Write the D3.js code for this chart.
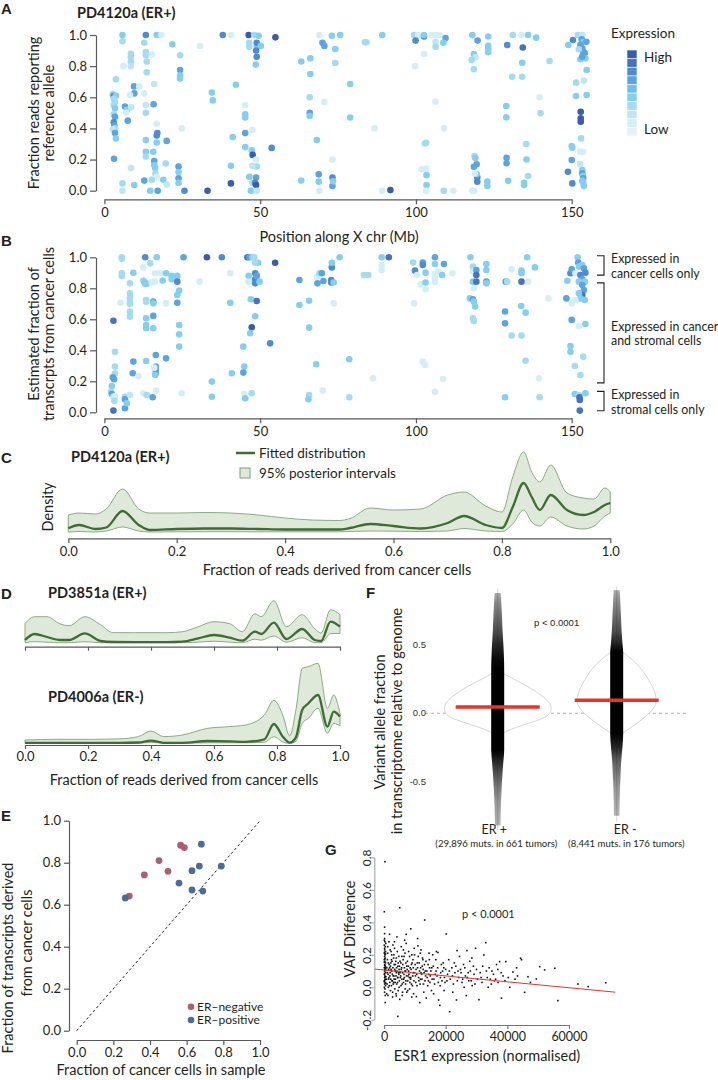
<!DOCTYPE html>
<html><head><meta charset="utf-8">
<script src="https://cdn.jsdelivr.net/npm/d3@7"></script>
<style>body{margin:0;background:#fff}</style>
</head><body><svg id="c" width="718" height="1080"></svg>
<script>
// ---------------- DATA ----------------
// Panel A: [position Mb, fraction ref reads, expression level 0-9]
const aPoints = [
[5.8,1,4],[13.3,1,7],[16.8,1,4],[18.3,1,1],[38,1,7],[40.6,1,1],[46.3,1,9],[48.1,1,3],[49.5,0.995,4],[54.9,0.985,9],[69,1,1],[73,0.995,4],[75.7,1,4],
[5.8,0.96,3],[12.8,0.95,3],[21.8,0.94,4],[30.7,0.93,1],[46.5,0.925,3],[46.5,0.95,3],[48.9,0.93,4],[48.9,0.95,7],[50.2,0.93,4],[70,0.95,6],[70.6,0.93,6],
[8.5,0.88,3],[8.5,0.86,3],[8.5,0.83,3],[8.5,0.8,2],[6.1,0.8,1],[13.3,0.89,3],[13.3,0.87,3],[13.6,0.83,3],[13.6,0.76,3],[15.2,0.875,1],[24.3,0.87,3],[24.3,0.775,6],[24.3,0.74,4],[24.3,0.72,4],[48.7,0.9,7],[48.9,0.86,7],[48.6,0.81,4],[63.2,0.83,4],[66.1,0.85,4],[66.1,0.75,4],[74.1,0.91,4],[74.1,0.82,3],[78.9,0.685,4],
[3.7,0.715,3],[9.5,0.67,6],[11.2,0.67,1],[16,0.685,2],[9.6,0.625,6],[12.8,0.625,1],[8.2,0.615,1],
[2.7,0.62,3],[3.0,0.61,7],[3.7,0.61,4],[3.0,0.59,3],[3.4,0.57,3],[3.0,0.55,3],[3.4,0.53,4],[3.0,0.49,3],[3.4,0.475,6],[3.0,0.44,7],[3.2,0.42,6],[3.4,0.4,3],[2.7,0.395,2],[3.4,0.37,6],[3.7,0.335,4],
[6.6,0.54,6],[7.2,0.52,4],[7.0,0.5,1],[7.5,0.45,6],[8.6,0.535,2],
[13.3,0.55,2],[13.3,0.5,3],[15.8,0.555,6],[16.8,0.43,1],[17.0,0.37,7],[16.8,0.355,7],[16.8,0.31,4],[20,0.32,6],[24.8,0.4,1],[13.3,0.325,4],[3.1,0.205,6],
[13.3,0.25,4],[13.3,0.22,3],[15.7,0.25,4],[16,0.19,6],[16,0.165,4],[16.3,0.145,4],[19.7,0.175,3],[23.8,0.155,6],[23.8,0.12,4],[23.8,0.08,6],[23.8,0.05,4],
[8.5,0.145,2],[16.4,0.11,3],[16.8,0.09,1],
[5.8,0.047,3],[9.6,0.037,4],[12.8,0.065,6],[15.2,0.07,3],[18.9,0.07,4],[20,0.04,2],
[5.8,0,2],[14.7,0,4],[17.1,0,6],[25.7,0,7],[33.1,0,9],[40.6,0.047,9],
[40.6,0.16,4],[41.2,0.345,4],[42.2,0.68,4],[34.5,0.63,4],[34.8,0.58,4],[45.2,0.55,1],[45.2,0.49,4],[45.2,0.47,4],[45.2,0.37,6],[45.2,0.28,4],[47.5,0.39,1],[47.3,0.26,4],[47.6,0.23,9],[48.7,0.2,1],[48.9,0.155,3],[47.5,0.16,2],[46.5,0.09,4],[48.7,0.085,6],[47.5,0.05,3],[48.4,0.05,7],[48.7,0.036,9],[47.6,0,1],[47,0,4],[48.9,0,2],
[53.7,0.275,7],
[65.9,0.6,3],[65.9,0.5,6],[65.9,0.48,4],[68.2,0.325,4],[70.6,0.57,1],[68.8,0.105,6],[68.8,0.058,4],[63.2,0.065,4],[69,0,1],[73.2,0.2,1],[73.2,0.085,7],[73.2,0.03,6],[73.4,0.06,4],[78.9,0.47,4],
[83.6,0.953,3],[84.1,0.953,3],[89.2,1,4],[99.4,1,3],[100.7,1,1],[99.9,0.964,7],[102.6,0.99,7],[102.6,1,4],[105,1,1],[106.5,1,1],[107.6,1,1],[106.3,0.957,2],[106.3,0.925,3],[109.5,0.98,6],[108.8,0.95,4],[102.6,0.878,1],[99.7,0.8,1],
[118.1,1,4],[119.8,0.964,6],[123.2,0.99,4],[123.2,0.93,4],[123.2,0.91,4],[123.2,0.89,4],[118.6,0.878,4],[119.1,0.857,2],[117.9,0.84,3],[118.6,0.78,3],[129.3,0.936,7],[131.1,1,3],[133.9,1,1],[136,1,4],[134.3,0.92,8],[134.1,0.822,4],[138.6,0.983,4],[142.9,0.833,3],[130.9,0.732,3],[134.1,0.732,3],[139.7,0.6,1],[140,0.497,3],[129,0.544,4],[129,0.471,4],[106.3,0.572,1],[86.7,0.4,1],[109,0.4,1],
[102.9,0.303,3],[103.3,0.308,3],[135.4,0.3,3],[118.8,0.223,3],[119.1,0.21,4],[119.5,0.17,6],[118.6,0.154,6],[129.1,0.212,6],[129.1,0.176,6],[135.5,0.2,4],[101.8,0.137,1],[103.3,0.143,1],[103.4,0.1,4],[103.4,0.036,4],[89.2,0,1],[91.8,0.004,9],[103.3,0,1],[108.9,0,3],[112,0,1],[118.1,0,1],[118.7,0,1],[119.7,0.086,7],[119.7,0.058,7],[119.5,0.107,4],[118.9,0.11,1],[122.9,0.058,4],[122.9,0.03,4],[129.6,0.064,4],[134.7,0.05,4],[134.7,0.036,4],[136,0.094,3],
[150.4,0.968,7],[152,1,3],[153.4,1,2],[153.2,0.972,6],[153.9,0.957,4],[154.7,0.957,6],[148.9,0.936,4],[152.8,0.936,6],[153.4,0.914,6],[153.7,0.893,6],[154.2,0.882,6],[152.3,0.908,3],[152.8,0.844,4],[154.4,0.85,4],[153.4,0.861,6],[154.8,0.775,4],[151.4,0.694,3],[153.9,0.707,2],[151.4,0.608,4],[154.8,0.615,4],[152.9,0.507,9],[152.9,0.465,9],[152.9,0.443,9],[153,0.336,3],[150,0.287,4],[150.2,0.276,4],[152.7,0.25,1],[153.7,0.25,1],[150,0.197,6],[152.7,0.171,2],[148.8,0.122,7],[153.4,0.133,4],[153.4,0.111,6],[153.6,0.094,4],[153.7,0.079,6],[153.4,0.064,4],[150.2,0.047,7],[153.7,0.051,4],[153.9,0.03,4]
];
// Panel B: [position Mb, estimated fraction from cancer cells, expression level 0-9]
const bPoints = [
[5.6,1,3],[5.6,0.99,3],[13.1,1,7],[16.8,1,4],[25.4,1,6],[32.9,1,9],[37.7,1,7],[45.9,1,8],[46.6,1,6],[47.5,1,4],[48.1,1,3],[49.3,0.965,4],[48.4,0.965,3],[54.8,0.965,9],[75.5,1,4],
[14.7,0.961,3],[12.5,0.935,1],
[5.6,0.897,3],[5.6,0.88,3],[9.3,0.9,4],[8.2,0.832,3],[16.3,0.897,1],[17.9,0.897,1],[19.8,0.897,4],[21.6,0.88,4],[21.6,0.858,4],[23.4,0.88,4],[18.7,0.85,4],[12.5,0.85,3],[12.8,0.84,4],[13.1,0.83,4],[13.6,0.83,4],[15.2,0.837,1],[16.1,0.843,1],[23.4,0.843,7],[24,0.785,4],[30.5,0.843,1],[40.4,0.897,1],[40.4,0.707,4],[46.3,0.88,4],[46.3,0.843,1],[48.4,0.897,7],[48.4,0.858,7],[48.4,0.832,7],[48.9,0.88,6],[49.8,0.843,4],[47,0.729,4],[48.9,0.718,8],[48.4,0.62,4],[47.3,0.548,9],[46.8,0.51,4],
[8.2,0.768,3],[8.2,0.742,3],[8.2,0.714,3],[8.2,0.7,3],[5.2,0.707,1],[8.2,0.65,3],[8.2,0.617,3],[13.4,0.725,3],[13.4,0.714,3],[15.7,0.714,6],[15.7,0.703,4],[19.8,0.703,1],[23.4,0.757,4],[23.4,0.707,6],[13.4,0.606,4],[13.4,0.563,4],[13.4,0.542,4],[15.7,0.622,6],[15.7,0.542,4],[24,0.563,4],[24,0.503,4],[24,0.424,4],[2.9,0.591,8],[3.4,0.39,3],[9.3,0.327,6],[9.1,0.252,6],[10.9,0.234,1],[3.4,0.295,3],[3.4,0.252,3],[2.7,0.226,6],[3.1,0.213,6],[2.4,0.17,4],[2.1,0.133,3],[2.4,0.118,6],[2.9,0.1,2],[3.4,0.104,1],[3.2,0.075,3],[2.9,0.011,8],[6.6,0.1,3],[6.6,0.084,6],[6.6,0.026,6],[7.2,0.058,4],[8.2,0.112,2],[13.4,0.331,4],[12.5,0.123,1],[13.6,0.112,3],[15.5,0.097,6],[16.5,0.37,6],[16.5,0.295,6],[16.5,0.273,6],[16.5,0.252,6],[16.3,0.241,4],[16,0.288,1],[19.8,0.348,6],[16.6,0.14,1],[24.8,0.123,1],[34.5,0.198,4],[34.5,0.1,4],[40.9,0.252,4],[44.6,0.424,4],[44.9,0.295,4],[44.6,0.256,6],[44.9,0.118,1],[45.2,0.09,4],[47.3,0.123,3],[53.2,0.445,7],[62.6,0.854,6],[62.6,0.692,4],[65.7,0.72,4],[65.7,0.546,4],[65.7,0.112,3],[65.5,0.084,4],[68,0.31,4],[70.1,0.14,1],[68.2,0.875,1],[69,0.897,3],[68.4,0.832,6],[69.8,0.897,6],[70.3,0.847,6],[72.8,0.854,7],[72.8,0.837,7],[73,0.935,7],[73,0.965,4],[73.6,0.837,4],[73.6,0.703,1],[78.6,0.342,4],[78.6,0.097,3],
[83.3,0.886,3],[84.7,0.886,3],[89,1,4],[91.3,1,8],[89,0.95,1],[89,0.918,1],[86.2,0.219,1],[99.1,0.966,3],[102.2,0.966,6],[102.2,0.95,7],[99.7,0.914,7],[100.4,0.886,1],[103.1,0.901,4],[101.5,0.826,1],[103.1,0.837,4],[103.1,0.794,1],[106.1,1,6],[106.1,0.957,4],[109,0.957,6],[106.1,0.892,1],[106.1,0.865,1],[106.1,0.843,1],[107.2,0.908,1],[108.4,0.886,4],[111.7,0.897,1],[99.4,0.703,1],[102.2,0.327,1],[102.9,0.305,1],[108.7,0.215,1],[106.1,0.133,1],
[117.5,1,4],[118.3,0.94,3],[118.3,0.908,1],[119.4,0.918,6],[119.4,0.886,8],[118.3,0.843,4],[119.4,0.843,8],[122.6,0.957,4],[122.6,0.918,4],[122.6,0.843,6],[122.6,0.832,4],[118.6,0.8,1],[117.3,0.735,4],[118.3,0.729,6],[118.6,0.714,4],[119,0.682,4],[118.3,0.606,3],[118.6,0.589,3],[128.8,0.843,6],[129.3,0.843,3],[128.6,0.65,6],[128.6,0.574,6],[130.7,0.923,1],[133.9,0.914,4],[133.9,0.897,4],[133.9,0.843,8],[135.7,1,4],[136,0.843,1],[138.2,0.935,4],[133.8,0.686,4],[135.2,0.643,4],[130.7,0.495,3],[133.9,0.495,3],[135.2,0.333,3],[139.5,0.219,1],[128.6,0.097,4],[139.7,0.097,3],[142.5,0.735,1],
[148.6,0.849,4],[148.3,0.735,6],[149.6,0.897,7],[150,0.923,6],[151.9,1,4],[152.1,0.966,6],[152.3,0.94,4],[153.4,0.95,4],[153.9,0.929,6],[151.2,0.897,1],[152.8,0.886,7],[153.4,0.858,6],[154.4,0.901,7],[152.3,0.843,4],[154.2,0.843,4],[153.4,0.821,6],[153.9,0.789,6],[153.4,0.757,8],[152.8,0.735,4],[154.2,0.725,4],[152.3,0.768,4],[150,0.703,1],[151.2,0.725,1],[150,0.596,6],[154.4,0.57,4],[152.3,0.557,1],[149.6,0.428,4],[149.6,0.391,4],[153.7,0.359,3],[151,0.299,3],[152.8,0.241,3],[151,0.118,4],[152.3,0.112,3],[154.4,0.123,4],[152.5,0.097,8],[152.6,0.08,8],[152.6,0.011,8]
];
const abXTicks = [0, 50, 100, 150];
const abYTicks = [0, 0.2, 0.4, 0.6, 0.8, 1.0];
const bBrackets = [[1.01, 0.885], [0.835, 0.19], [0.135, 0.01]];
const bBracketText = [["Expressed in", "cancer cells only"], ["Expressed in cancer", "and stromal cells"], ["Expressed in", "stromal cells only"]];

// Panel C: fitted density and 95% posterior interval
const cX   = [0,.02,.05,.07,.10,.13,.15,.20,.25,.30,.35,.40,.45,.50,.52,.557,.60,.65,.70,.73,.77,.80,.82,.84,.855,.87,.89,.92,.95,.97,.99,1.0];
const cFit = [.37,.7,.3,.45,2.1,.7,.2,.3,.35,.35,.3,.25,.25,.25,.4,.8,.6,.35,.9,1.6,.7,.4,2.5,4.9,3.5,2.2,3.7,2.2,1.7,2.0,2.7,2.9];
const cLo  = [0,.05,0,.1,.5,.1,0,.02,.03,.03,.02,.02,.02,.02,.05,.1,.08,.05,.1,.35,.1,.05,.8,2.2,1.0,.6,1.5,.6,.3,.6,1.6,1.9];
const cHi  = [1.7,1.9,1.8,2.3,4.3,2.3,1.9,1.9,1.95,1.9,1.7,1.4,1.2,1.15,1.35,2.4,2.2,2.3,3.7,4.0,2.6,2.0,5.5,8.0,6.0,5.0,6.7,3.9,3.4,3.3,4.4,4.0];
const fracTicks = [0, 0.2, 0.4, 0.6, 0.8, 1.0];

// Panel D
const d1X   = [0,.03,.07,.11,.14,.19,.24,.28,.35,.45,.5,.55,.6,.65,.69,.73,.75,.79,.83,.88,.92,.94,.97,1.0];
const d1Fit = [.27,.87,.57,.27,.27,.93,.17,.07,.05,.05,.1,.43,.77,.5,.2,1.1,.87,2.0,.37,1.37,.27,.17,2.1,1.6];
const d1Lo  = [0,.1,.05,0,0,.1,0,0,0,0,0,.05,.15,.05,0,.35,.25,.67,.05,.5,0,0,.9,.93];
const d1Hi  = [1.9,2.6,2.6,1.9,1.7,2.6,1.8,1.0,1.0,1.0,1.1,1.6,2.1,1.9,1.1,2.9,2.6,4.2,1.6,2.8,1.4,.97,3.3,2.8];
const d2X   = [0,.1,.2,.3,.36,.4,.44,.5,.58,.65,.7,.76,.79,.82,.84,.86,.88,.9,.93,.96,.98,1.0];
const d2Fit = [.05,.05,.05,.05,.08,.27,.05,.05,.23,.2,.15,.4,1.93,.6,.07,.6,3.33,4.0,4.83,1.67,3.17,2.67];
const d2Lo  = [0,0,0,0,0,.1,0,0,.05,.05,.05,.1,.67,.1,0,.2,2.0,2.5,3.5,1.0,2.0,1.73];
const d2Hi  = [.33,.4,.4,.45,.67,1.23,.67,.83,1.5,1.67,1.83,2.83,4.3,2.67,.73,3.33,7.5,7.67,8.0,3.5,4.83,3.0];

// Panel E: [fraction cancer cells in sample, fraction transcripts from cancer cells]
const eNeg = [[0.287,0.641],[0.369,0.742],[0.449,0.81],[0.498,0.759],[0.567,0.883],[0.587,0.872]];
const ePos = [[0.265,0.632],[0.558,0.703],[0.629,0.762],[0.629,0.67],[0.669,0.784],[0.68,0.888],[0.688,0.665],[0.789,0.784]];
const eTicks = [0, 0.2, 0.4, 0.6, 0.8, 1.0];
const eLegend = ["ER–negative", "ER–positive"];

// Panel F
const fCats = ["ER +", "ER -"];
const fSub = ["(29,896 muts. in 661 tumors)", "(8,441 muts. in 176 tumors)"];
const fMedian = [0.046, 0.095];
const fTicks = [0.5, 0.0, -0.5];
const fViolinPlusY = [0.3,0.268,0.195,0.146,0.085,0.037,-0.024,-0.073,-0.122,-0.15];
const fViolinPlusD = [0.07,0.2,0.57,0.76,0.96,1.0,0.96,0.57,0.2,0.07];
const fViolinMinusY = [0.46,0.37,0.27,0.17,0.1,0.05,-0.02,-0.1,-0.15];
const fViolinMinusD = [0.07,0.37,0.56,0.7,0.74,0.72,0.56,0.28,0.09];
const fColPlusY = [0.88,0.8,0.7,0.6,0.5,0.4,0.32,-0.27,-0.35,-0.45,-0.55,-0.65,-0.82];
const fColPlusD = [0.12,0.3,0.45,0.6,0.8,0.95,1,1,0.8,0.55,0.35,0.2,0.06];
const fColMinusY = [0.9,0.8,0.7,0.6,0.5,0.45,-0.15,-0.25,-0.35,-0.45,-0.55,-0.75];
const fColMinusD = [0.12,0.3,0.45,0.6,0.85,1,1,0.8,0.5,0.35,0.2,0.06];

// Panel G: [ESR1 expression (thousands), VAF difference]
const gPoints = [
[0.2,0.30],[0.3,0.28],[0.1,0.26],[0.4,0.25],[0.2,0.23],[0.5,0.22],[0.1,0.21],[0.3,0.2],[0.2,0.19],[0.4,0.18],[0.1,0.17],[0.3,0.16],[0.5,0.15],[0.2,0.14],[0.4,0.13],[0.1,0.12],[0.3,0.11],[0.2,0.1],[0.5,0.09],[0.1,0.08],[0.3,0.07],[0.2,0.06],[0.4,0.05],[0.1,0.04],[0.3,0.03],[0.2,0.02],[0.5,0.01],[0.1,0.0],[0.3,-0.01],[0.2,-0.03],[0.4,-0.05],[0.2,0.24],[0.6,0.27],[0.1,0.29],[0.3,0.135],[0.6,0.105],[0.6,0.065],[0.6,0.025],[0.2,0.37],[0.1,0.465],[0.3,0.773],[0.2,0.33],[0.4,-0.094],
[0.3,0.045],[0.2,0.085],[0.4,0.115],[0.1,0.155],[0.3,0.175],[0.5,0.205],[0.2,0.215],[0.4,0.065],[0.1,0.035],[0.5,0.125],
[1.2,0.21],[1.5,0.05],[1.8,0.12],[2.1,-0.02],[2.4,0.17],[2.7,0.08],[3.0,0.02],[3.3,0.14],[3.6,0.1],[3.9,-0.04],[4.2,0.31],[4.5,0.06],[4.8,0.19],[1.1,0.09],[1.4,0.15],[1.7,0.01],[2.0,0.23],[2.3,0.11],[2.6,0.04],[2.9,0.26],[3.2,0.07],[3.5,-0.01],[3.8,0.16],[4.1,0.12],[4.4,0.03],[4.7,0.09],[5.0,0.13],[1.3,-0.05],[1.9,0.07],[2.5,0.2],[3.1,0.18],[3.7,0.05],[4.3,0.22],[4.9,0.0],[1.6,0.28],[2.2,0.15],[2.8,-0.03],[3.4,0.24],[4.0,0.09],[4.6,0.15],[5.1,0.49],[4.0,-0.053],[4.5,-0.179],[5.1,-0.074],[1.8,0.326],
[0.8,0.05],[0.9,0.12],[1.0,0.02],[1.1,0.17],[1.3,0.08],[1.4,0.0],[1.5,0.11],[1.6,0.06],[1.7,0.14],[1.9,0.03],[2.0,0.09],[2.1,0.13],[2.2,0.05],[2.4,0.01],[2.5,0.1],[2.6,0.16],[2.7,0.04],[2.9,0.12],[3.0,0.07],[3.1,0.03],[3.2,0.2],[3.3,0.05],[3.5,0.11],[3.6,0.03],[3.7,0.14],[3.9,0.07],[4.0,0.18],[4.1,0.02],[4.2,0.1],[4.4,0.06],[4.5,0.13],[4.6,-0.02],[4.8,0.08],[4.9,0.11],[5.0,0.04],
[5.2,0.16],[5.4,0.07],[5.5,0.01],[5.7,0.12],[5.8,0.05],[6.0,0.09],[6.1,0.14],[6.3,0.03],[6.5,0.19],[6.6,0.06],[6.8,0.1],[7.0,0.02],[7.1,0.15],[7.3,0.07],[7.5,0.11],[7.7,0.04],[7.9,0.13],[8.1,0.08],[8.3,-0.01],[8.5,0.12],[8.7,0.06],[8.9,0.02],[9.1,0.15],[9.3,0.07],[9.5,0.12],[9.7,0.04],[9.9,0.09],
[1.2,0.25],[2.3,0.22],[3.4,0.28],[5.6,0.25],[6.7,0.29],[8.0,0.22],[9.9,0.2],[11.8,0.21],[0.9,-0.04],[2.8,-0.06],[5.9,-0.05],[7.4,-0.03],[9.0,-0.06],[12.9,-0.03],[16.1,-0.04],[19.5,-0.02],
[5.3,0.06],[5.6,0.11],[5.9,0.02],[6.2,0.17],[6.5,0.08],[6.8,0.21],[7.1,0.04],[7.4,0.13],[7.7,-0.02],[8.0,0.1],[8.3,0.19],[8.6,0.05],[8.9,0.14],[9.2,0.01],[9.5,0.09],[9.8,0.24],[5.5,0.15],[6.0,-0.03],[6.6,0.12],[7.2,0.27],[7.8,0.07],[8.4,0.03],[9.0,0.2],[9.6,-0.04],[5.8,0.19],[6.4,0.05],[7.0,0.1],[7.6,0.16],[8.2,0.06],[8.8,0.11],[9.4,0.17],[7.2,0.326],[6.3,0.23],[8.7,0.36],[5.2,0.09],[6.9,-0.01],
[10.1,0.14],[10.3,0.03],[10.6,0.08],[10.9,0.12],[11.2,0.06],[11.4,0.15],[11.7,0.02],[12.0,0.09],[12.3,0.05],[12.7,0.11],[13.1,0.14],[13.5,0.07],[13.9,0.1],[14.4,0.04],[14.7,0.17],
[10.2,0.07],[10.5,-0.057],[10.8,0.15],[11.0,0.255],[11.3,0.04],[11.6,-0.094],[11.9,0.12],[12.2,0.08],[12.5,0.18],[12.8,0.02],[13.2,0.414],[13.4,0.1],[13.7,-0.066],[14.0,0.06],[14.3,0.14],[14.6,0.21],[14.9,0.03],[10.4,0.11],[11.1,0.19],[11.8,0.05],[12.4,0.13],[13.0,0.09],[13.6,0.16],[14.2,0.01],[14.8,0.12],[10.7,0.01],[12.0,0.23],[13.3,0.04],[14.5,0.08],[10.9,0.3],[12.6,0.17],[11.5,0.1],
[15.0,0.07],[15.5,0.12],[16.2,0.05],[16.9,0.1],[17.6,0.03],[18.3,0.06],[19.4,0.12],[20.4,0.04],[21.2,0.1],[22.2,0.07],[23.3,0.13],[24.0,0.1],[25.5,0.05],[26.2,0.12],[27.3,0.09],[28.3,0.04],[29.5,0.02],[31.5,0.06],[33.2,0.1],[35.8,0.04],
[15.2,0.1],[15.6,0.05],[16.0,0.13],[16.4,0.02],[16.8,0.17],[17.2,0.07],[17.5,0.214],[17.7,-0.078],[18.1,-0.111],[18.4,0.09],[18.8,0.04],[19.2,0.15],[19.6,0.06],[20.0,0.11],[15.8,0.2],[16.6,0.08],[17.4,0.12],[18.2,0.01],[19.0,0.1],[19.8,0.03],[20.2,0.328],[15.4,-0.02],[17.0,0.22],[18.6,0.14],
[20.6,0.08],[21.3,-0.15],[21.5,0.05],[22.0,0.12],[22.5,0.02],[23.0,0.09],[23.5,-0.078],[23.7,0.226],[24.2,0.06],[24.8,0.11],[25.3,0.03],[25.8,0.14],[26.4,0.07],[26.7,-0.051],[26.9,0.226],[27.5,0.04],[28.0,0.1],[28.6,0.01],[29.2,0.08],[29.7,0.24],[30.3,0.05],[30.8,-0.076],[21.0,0.17],[22.8,0.15],[24.5,0.19],[26.0,0.0],[27.8,0.16],[29.0,0.13],[22.3,-0.03],[25.0,0.09],[27.0,0.06],[28.5,0.18],[30.0,0.11],[23.8,0.04],
[31.2,0.09],[31.8,0.03],[32.4,0.199],[33.0,0.275],[33.5,0.06],[34.1,0.12],[34.8,0.02],[35.5,0.08],[36.2,0.05],[36.9,0.11],[37.5,0.158],[38.1,-0.067],[38.6,0.07],[39.2,0.04],[39.5,0.158],[32.0,0.13],[33.8,0.0],[35.0,0.1],[36.5,0.14],[38.0,0.09],[34.5,0.05],[37.0,0.03],
[40.8,0.0],[41.8,0.094],[42.5,0.05],[43.3,0.07],[44.3,0.179],[44.6,0.17],[45.6,-0.031],[46.7,0.065],[47.5,0.03],[49.4,0.051],[40.3,0.06],[43.0,0.12],
[50.5,0.127],[52.1,0.107],[55.4,0.117],[56.4,-0.082],[62.9,0.02],[66.2,0.004],[71.9,0.028]
];
const gFit = [[-3, 0.112], [75, -0.03]];
const gXTicks = [0, 20000, 40000, 60000];
const gYTicks = [-0.2, 0.0, 0.2, 0.4, 0.6, 0.8];

// ---------------- DRAWING ----------------
const FONT = "Lato, 'Open Sans', sans-serif";
const ARIAL = "'Liberation Sans', Arial, sans-serif";
const palette = ["#e4f4f7","#d3eef5","#bfe6f3","#a3dbf1","#84cef0","#6cc1ec","#5aa4df","#4e8ccf","#4573bd","#3c5ba9"];
const svg = d3.select("#c");
const defs = svg.append("defs");
const fmt1 = d => d3.format(".1f")(d).replace("−", "-");

function txt(x, y, s, size, o = {}) {
  return svg.append("text").attr("x", x).attr("y", y).text(s)
    .attr("font-size", size).attr("font-family", o.family || FONT)
    .attr("font-weight", o.weight || "normal").attr("text-anchor", o.anchor || "start")
    .attr("fill", o.fill || "#231f20");
}
function rtxt(x, y, s, size, o = {}) {
  return svg.append("text").attr("transform", `translate(${x},${y}) rotate(-90)`).text(s)
    .attr("font-size", size).attr("font-family", o.family || FONT)
    .attr("text-anchor", "middle").attr("fill", o.fill || "#231f20");
}
function styleAxis(g, size, color) {
  g.selectAll("path,line").attr("stroke", color || "#58595b").attr("stroke-width", 1.2);
  g.selectAll("text").attr("font-size", size).attr("font-family", FONT).attr("fill", "#231f20");
}
function letter(x, y, s) { txt(x, y, s, 15, {weight: "bold", family: ARIAL}); }

// ----- Panel A -----
const xA = d3.scaleLinear().domain([0, 150]).range([104.4, 571.7]);
const yA = d3.scaleLinear().domain([0, 1]).range([190.7, 35]);
letter(1, 14, "A");
txt(77, 18, "PD4120a (ER+)", 14.5, {weight: "bold"});
svg.append("g").selectAll("circle").data(aPoints).join("circle")
  .attr("cx", d => xA(d[0])).attr("cy", d => yA(d[1])).attr("r", 3.3)
  .attr("fill", d => palette[d[2]]);
let g = svg.append("g").attr("transform", "translate(96,0)")
  .call(d3.axisLeft(yA).tickValues(abYTicks).tickSize(6).tickSizeOuter(0).tickFormat(fmt1));
styleAxis(g, 13);
g = svg.append("g").attr("transform", "translate(0,199.3)")
  .call(d3.axisBottom(xA).tickValues(abXTicks).tickSize(5).tickSizeOuter(0));
styleAxis(g, 13);
rtxt(39, 113, "Fraction reads reporting", 14.5);
rtxt(54, 113, "reference allele", 14.5);
txt(339, 242, "Position along X chr (Mb)", 14.5, {anchor: "middle"});
// legend
txt(611, 38, "Expression", 13.5);
const legY = d3.scaleBand().domain(d3.range(9, -1, -1)).range([50, 136]);
svg.append("g").selectAll("rect").data(d3.range(10)).join("rect")
  .attr("x", 627).attr("width", 10).attr("y", d => legY(d)).attr("height", legY.bandwidth())
  .attr("fill", d => palette[d]).attr("stroke", "#fff").attr("stroke-width", 0.6);
txt(644, 62, "High", 13.5);
txt(644, 134, "Low", 13.5);

// ----- Panel B -----
const yB = d3.scaleLinear().domain([0, 1]).range([412.3, 257.3]);
letter(1, 246, "B");
svg.append("g").selectAll("circle").data(bPoints).join("circle")
  .attr("cx", d => xA(d[0])).attr("cy", d => yB(d[1])).attr("r", 3.3)
  .attr("fill", d => palette[d[2]]);
g = svg.append("g").attr("transform", "translate(96,0)")
  .call(d3.axisLeft(yB).tickValues(abYTicks).tickSize(6).tickSizeOuter(0).tickFormat(fmt1));
styleAxis(g, 13);
g = svg.append("g").attr("transform", "translate(0,418.3)")
  .call(d3.axisBottom(xA).tickValues(abXTicks).tickSize(5).tickSizeOuter(0));
styleAxis(g, 13);
rtxt(39, 334, "Estimated fraction of", 14.5);
rtxt(54, 334, "transcrpts from cancer cells", 14.5);
bBrackets.forEach((r, i) => {
  svg.append("path").attr("d", `M597,${yB(r[0])}H604V${yB(r[1])}H597`)
    .attr("fill", "none").attr("stroke", "#231f20").attr("stroke-width", 1.1);
  const mid = (yB(r[0]) + yB(r[1])) / 2;
  txt(611, mid - 2, bBracketText[i][0], 12.4);
  txt(611, mid + 12.5, bBracketText[i][1], 12.4);
});

// ----- density helper -----
function densityPanel(xs, fit, lo, hi, xScale, yScale) {
  const pts = xs.map((x, i) => ({x, f: fit[i], l: lo[i], h: hi[i]}));
  svg.append("path").datum(pts)
    .attr("d", d3.area().x(d => xScale(d.x)).y0(d => yScale(d.l)).y1(d => yScale(d.h)).curve(d3.curveMonotoneX))
    .attr("fill", "#dfe9da").attr("stroke", "#6f9a66").attr("stroke-width", 0.8);
  svg.append("path").datum(pts)
    .attr("d", d3.line().x(d => xScale(d.x)).y(d => yScale(d.f)).curve(d3.curveMonotoneX))
    .attr("fill", "none").attr("stroke", "#3e6c35").attr("stroke-width", 2.3);
}

// ----- Panel C -----
const xC = d3.scaleLinear().domain([0, 1]).range([68.3, 610.3]);
const yC = d3.scaleLinear().domain([0, 8]).range([532, 452]);
letter(1, 463, "C");
txt(71, 462, "PD4120a (ER+)", 14.5, {weight: "bold"});
densityPanel(cX, cFit, cLo, cHi, xC, yC);
g = svg.append("g").attr("transform", "translate(0,538.3)")
  .call(d3.axisBottom(xC).tickValues(fracTicks).tickSize(5).tickSizeOuter(0).tickFormat(fmt1));
styleAxis(g, 13);
rtxt(53, 507, "Density", 14.5);
txt(337, 575, "Fraction of reads derived from cancer cells", 14.5, {anchor: "middle"});
svg.append("line").attr("x1", 236).attr("x2", 255).attr("y1", 453).attr("y2", 453)
  .attr("stroke", "#3e6c35").attr("stroke-width", 2.5);
txt(259, 458, "Fitted distribution", 13.5);
svg.append("rect").attr("x", 240).attr("y", 468).attr("width", 10).attr("height", 10)
  .attr("fill", "#dfe9da").attr("stroke", "#6f9a66").attr("stroke-width", 0.9);
txt(259, 478, "95% posterior intervals", 13.5);

// ----- Panel D -----
const xD = d3.scaleLinear().domain([0, 1]).range([25, 340]);
const yD1 = d3.scaleLinear().domain([0, 4.2]).range([642.7, 600.7]);
const yD2 = d3.scaleLinear().domain([0, 8]).range([743.3, 663.3]);
letter(1, 599, "D");
txt(48, 598, "PD3851a (ER+)", 14.5, {weight: "bold"});
densityPanel(d1X, d1Fit, d1Lo, d1Hi, xD, yD1);
g = svg.append("g").attr("transform", "translate(0,646.7)")
  .call(d3.axisBottom(xD).tickValues(fracTicks).tickSize(4).tickSizeOuter(0).tickFormat(""));
styleAxis(g, 13);
txt(48, 702, "PD4006a (ER-)", 14.5, {weight: "bold"});
densityPanel(d2X, d2Fit, d2Lo, d2Hi, xD, yD2);
g = svg.append("g").attr("transform", "translate(0,745)")
  .call(d3.axisBottom(xD).tickValues(fracTicks).tickSize(4).tickSizeOuter(0).tickFormat(fmt1));
styleAxis(g, 13);
txt(184, 785, "Fraction of reads derived from cancer cells", 14.5, {anchor: "middle"});

// ----- Panel E -----
const xE = d3.scaleLinear().domain([0, 1]).range([76.7, 260]);
const yE = d3.scaleLinear().domain([0, 1]).range([1030.7, 820.7]);
letter(1, 821, "E");
svg.append("line").attr("x1", xE(0)).attr("y1", yE(0)).attr("x2", xE(1)).attr("y2", yE(1))
  .attr("stroke", "#231f20").attr("stroke-width", 1).attr("stroke-dasharray", "2.5,2.5");
const eCol = ["#b05d70", "#4b6b9b"];
svg.append("g").selectAll("circle").data(eNeg).join("circle")
  .attr("cx", d => xE(d[0])).attr("cy", d => yE(d[1])).attr("r", 3.4).attr("fill", eCol[0]);
svg.append("g").selectAll("circle").data(ePos).join("circle")
  .attr("cx", d => xE(d[0])).attr("cy", d => yE(d[1])).attr("r", 3.4).attr("fill", eCol[1]);
g = svg.append("g").attr("transform", "translate(69,0)")
  .call(d3.axisLeft(yE).tickValues(eTicks).tickSize(5).tickSizeOuter(0).tickFormat(fmt1));
styleAxis(g, 13);
g = svg.append("g").attr("transform", "translate(0,1040)")
  .call(d3.axisBottom(xE).tickValues(eTicks).tickSize(5).tickSizeOuter(0).tickFormat(fmt1));
styleAxis(g, 13);
rtxt(13, 958, "Fraction of transcripts derived", 14.5);
rtxt(32, 943, "from cancer cells", 14.5);
txt(161, 1075, "Fraction of cancer cells in sample", 14.5, {anchor: "middle"});
eLegend.forEach((s, i) => {
  svg.append("circle").attr("cx", 191).attr("cy", 1006.7 + i * 13.3).attr("r", 3.3).attr("fill", eCol[i]);
  txt(197, 1011 + i * 13.3, s, 12);
});

// ----- Panel F -----
const xF = d3.scalePoint().domain(fCats).range([497.7, 616.7]);
const yF = d3.scaleLinear().domain([-0.5, 0.5]).range([781.65, 644.95]);
const fLabelShift = [-3.5, 8.5], fSubShift = [-1.4, 9.6];
letter(366, 598, "F");
svg.append("line").attr("x1", 425).attr("x2", 688).attr("y1", yF(0)).attr("y2", yF(0))
  .attr("stroke", "#f08a80").attr("stroke-width", 0.9).attr("stroke-dasharray", "3,3");
const violins = [[fViolinPlusY, fViolinPlusD], [fViolinMinusY, fViolinMinusD]];
const cols = [[fColPlusY, fColPlusD], [fColMinusY, fColMinusD]];
fCats.forEach((c, i) => {
  const cx = xF(c);
  const vp = violins[i][0].map((v, j) => ({v, d: violins[i][1][j]}));
  svg.append("path").datum(vp)
    .attr("d", d3.area().y(d => yF(d.v)).x0(d => cx - 54 * d.d).x1(d => cx + 54 * d.d).curve(d3.curveBasis))
    .attr("fill", "#fff").attr("stroke", "#c9c9c9").attr("stroke-width", 0.8);
  const cp = cols[i][0].map((v, j) => ({v, d: cols[i][1][j]}));
  svg.append("line").attr("x1", cx).attr("x2", cx).attr("y1", yF(cp[0].v) - 4).attr("y2", yF(cp[cp.length - 1].v) + 6)
    .attr("stroke", "#cfcfcf").attr("stroke-width", 0.8);
  const gid = "fg" + i;
  const y0 = yF(cp[0].v), y1 = yF(cp[cp.length - 1].v);
  const grad = defs.append("linearGradient").attr("id", gid)
    .attr("gradientUnits", "userSpaceOnUse").attr("x1", 0).attr("x2", 0).attr("y1", y0).attr("y2", y1);
  cp.forEach(p => grad.append("stop").attr("offset", (yF(p.v) - y0) / (y1 - y0))
    .attr("stop-color", "#000").attr("stop-opacity", 0.25 + 0.75 * p.d));
  const colArea = d3.area().y(d => yF(d.v)).x0(d => cx - (2.5 + 4 * d.d)).x1(d => cx + (2.5 + 4 * d.d)).curve(d3.curveMonotoneY);
  svg.append("path").datum(cp).attr("d", colArea).attr("fill", `url(#${gid})`);
  svg.append("line").attr("x1", cx - 42).attr("x2", cx + 42).attr("y1", yF(fMedian[i])).attr("y2", yF(fMedian[i]))
    .attr("stroke", "#e8322b").attr("stroke-width", 3.5);
  txt(cx + fLabelShift[i], 834, c, 12.5, {anchor: "middle"});
  txt(cx + fSubShift[i], 847, fSub[i], 9.6, {anchor: "middle"});
});
svg.append("g").selectAll("text").data(fTicks).join("text")
  .attr("x", 426).attr("y", d => yF(d) + 3).attr("text-anchor", "end")
  .attr("font-size", 9.5).attr("font-family", ARIAL).attr("fill", "#333")
  .text(fmt1);
txt(534, 626, "p < 0.0001", 9.5, {family: ARIAL});
rtxt(385, 722, "Variant allele fraction", 14.5);
rtxt(402, 721, "in transcriptome relative to genome", 14.5);

// ----- Panel G -----
const xG = d3.scaleLinear().domain([0, 60000]).range([384, 569]);
const yG = d3.scaleLinear().domain([-0.2, 0.8]).range([1019.8, 857.3]);
letter(325, 855, "G");
svg.append("g").selectAll("rect").data(gPoints).join("rect")
  .attr("x", d => xG(d[0] * 1000) - 0.8).attr("y", d => yG(d[1]) - 0.8)
  .attr("width", 1.6).attr("height", 1.6).attr("fill", "#111");
svg.append("line").attr("x1", xG(gFit[0][0] * 1000)).attr("y1", yG(gFit[0][1]))
  .attr("x2", xG(gFit[1][0] * 1000)).attr("y2", yG(gFit[1][1]))
  .attr("stroke", "#e8322b").attr("stroke-width", 1);
g = svg.append("g").attr("transform", "translate(374.3,0)")
  .call(d3.axisLeft(yG).tickValues(gYTicks).tickSize(3).tickSizeOuter(0).tickFormat(fmt1));
styleAxis(g, 12, "#aaa");
g.selectAll(".tick text").attr("x", null).attr("dy", null).attr("text-anchor", "middle")
  .attr("transform", "translate(-3.5,0) rotate(-90)");
g = svg.append("g").attr("transform", "translate(0,1025)")
  .call(d3.axisBottom(xG).tickValues(gXTicks).tickSize(4).tickSizeOuter(0).tickFormat(d3.format("d")));
styleAxis(g, 12.5, "#777");
rtxt(355, 929, "VAF Difference", 14.5);
txt(487, 1061, "ESR1 expression (normalised)", 14.5, {anchor: "middle"});
txt(462, 918, "p < 0.0001", 11);
</script></body></html>
